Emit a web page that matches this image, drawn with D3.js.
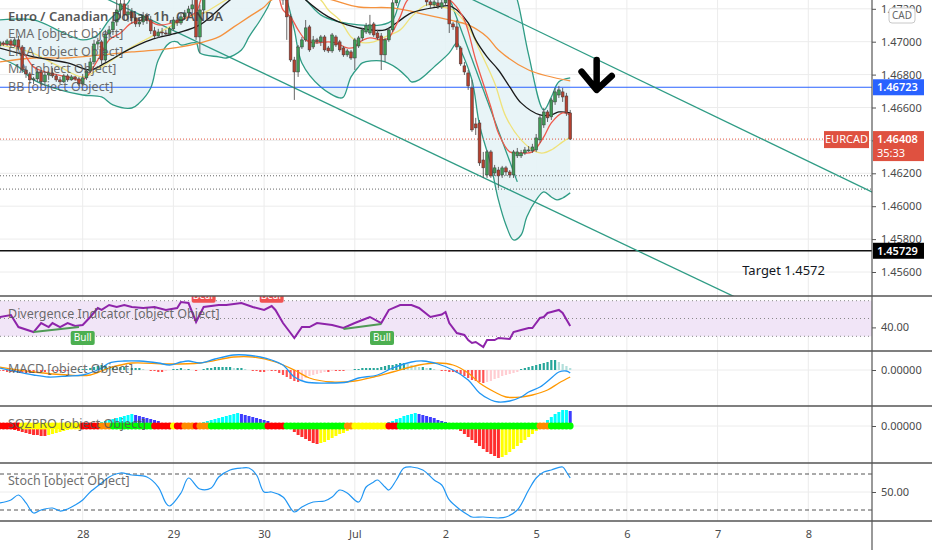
<!DOCTYPE html>
<html>
<head>
<meta charset="utf-8">
<script src="https://cdn.jsdelivr.net/npm/d3@7"></script>
<style>
  html, body { margin: 0; padding: 0; background: #fff; overflow: hidden; }
  svg { display: block; font-family: "Noto Sans", "DejaVu Sans", sans-serif; }
</style>
</head>
<body>
<svg></svg>
<script>
// EURCAD 1h. hour index: 24 = 28 Jun 00:00
const dayTicks = [24, 48, 72, 96, 120, 144, 168, 192, 216];
const dayLabels = ["28", "29", "30", "Jul", "2", "5", "6", "7", "8"];
const priceTicks = [1.472, 1.470, 1.468, 1.466, 1.464, 1.462, 1.460, 1.458, 1.456];
const hiddenTicks = [1.464]; // covered by the last-price tag

const firstHour = 2;
// [open, high, low, close]
const candles = [
  [1.46974,1.47011,1.46962,1.46999],[1.46993,1.47005,1.46974,1.46986],[1.46986,1.47017,1.46974,1.47005],
  [1.47005,1.47017,1.46968,1.46980],[1.46980,1.47029,1.46968,1.47011],[1.47011,1.47035,1.46950,1.46968],
  [1.46968,1.46980,1.46810,1.46828],[1.46828,1.46853,1.46780,1.46804],[1.46804,1.46816,1.46743,1.46768],
  [1.46768,1.46786,1.46743,1.46774],[1.46774,1.46834,1.46756,1.46816],[1.46816,1.46828,1.46737,1.46756],
  [1.46756,1.46816,1.46743,1.46798],[1.46798,1.46822,1.46768,1.46810],[1.46810,1.46841,1.46780,1.46792],
  [1.46792,1.46804,1.46756,1.46768],[1.46768,1.46786,1.46743,1.46756],[1.46756,1.46804,1.46749,1.46792],
  [1.46792,1.46804,1.46756,1.46768],[1.46768,1.46798,1.46762,1.46786],[1.46786,1.46792,1.46762,1.46774],
  [1.46774,1.46786,1.46731,1.46743],[1.46743,1.46804,1.46737,1.46780],[1.46780,1.46834,1.46768,1.46822],
  [1.46822,1.46901,1.46810,1.46877],[1.46877,1.47011,1.46865,1.46986],[1.46986,1.47023,1.46950,1.46999],
  [1.46999,1.47011,1.46865,1.46889],[1.46889,1.47072,1.46877,1.47047],[1.47047,1.47096,1.47011,1.47072],
  [1.47072,1.47157,1.47041,1.47120],[1.47120,1.47254,1.47096,1.47193],[1.47193,1.47266,1.47145,1.47230],
  [1.47230,1.47254,1.47132,1.47163],[1.47163,1.47224,1.47120,1.47181],[1.47181,1.47205,1.47108,1.47145],
  [1.47145,1.47169,1.47090,1.47108],[1.47108,1.47145,1.47090,1.47120],[1.47120,1.47181,1.47102,1.47157],
  [1.47157,1.47175,1.47108,1.47132],[1.47132,1.47157,1.47047,1.47066],[1.47066,1.47090,1.47023,1.47035],
  [1.47035,1.47078,1.47023,1.47059],[1.47059,1.47084,1.47035,1.47053],[1.47053,1.47072,1.47035,1.47047],
  [1.47047,1.47090,1.47035,1.47078],[1.47078,1.47151,1.47066,1.47132],[1.47132,1.47151,1.47096,1.47114],
  [1.47114,1.47169,1.47102,1.47151],[1.47151,1.47193,1.47132,1.47175],[1.47175,1.47218,1.47157,1.47199],
  [1.47199,1.47254,1.47169,1.47224],[1.47290,1.47315,1.47011,1.47029],[1.47029,1.47224,1.46932,1.47193],
  [1.47193,1.47315,1.47169,1.47284],[1.47284,1.47330,1.47270,1.47310],[1.47310,1.47350,1.47295,1.47340],
  [1.47340,1.47380,1.47320,1.47360],[1.47360,1.47400,1.47340,1.47385],[1.47385,1.47420,1.47360,1.47370],
  [1.47370,1.47410,1.47350,1.47395],[1.47395,1.47440,1.47380,1.47420],[1.47420,1.47450,1.47390,1.47400],
  [1.47400,1.47430,1.47370,1.47380],[1.47380,1.47420,1.47360,1.47405],[1.47405,1.47440,1.47390,1.47430],
  [1.47430,1.47460,1.47400,1.47415],[1.47415,1.47445,1.47385,1.47395],[1.47395,1.47430,1.47375,1.47420],
  [1.47420,1.47455,1.47400,1.47440],[1.47440,1.47470,1.47410,1.47425],[1.47425,1.47450,1.47390,1.47400],
  [1.47400,1.47430,1.47370,1.47385],[1.47385,1.47410,1.47350,1.47370],[1.47370,1.47395,1.47340,1.47376],
  [1.47376,1.47406,1.47224,1.47254],[1.47254,1.47272,1.47011,1.47151],[1.47151,1.47169,1.46877,1.46889],
  [1.46889,1.46908,1.46646,1.46816],[1.46816,1.46980,1.46786,1.46968],[1.46968,1.47029,1.46956,1.47011],
  [1.47011,1.47132,1.46999,1.47084],[1.47090,1.47102,1.46938,1.46950],[1.46968,1.47035,1.46956,1.47011],
  [1.47011,1.47023,1.46986,1.46999],[1.46999,1.47041,1.46974,1.47029],[1.47029,1.47041,1.46938,1.46950],
  [1.46962,1.46974,1.46932,1.46944],[1.46944,1.47053,1.46932,1.47041],[1.47029,1.47041,1.46968,1.46980],
  [1.46999,1.47011,1.46938,1.46950],[1.46962,1.46974,1.46908,1.46920],[1.46920,1.46956,1.46908,1.46944],
  [1.46938,1.46950,1.46889,1.46901],[1.46901,1.47023,1.46828,1.47011],[1.46974,1.47035,1.46962,1.47023],
  [1.47023,1.47084,1.47005,1.47072],[1.47059,1.47114,1.47047,1.47096],[1.47053,1.47163,1.47041,1.47102],
  [1.47108,1.47120,1.47029,1.47041],[1.47053,1.47072,1.47011,1.47023],[1.47035,1.47053,1.46828,1.46920],
  [1.46920,1.47023,1.46877,1.47011],[1.47011,1.47084,1.46999,1.47072],[1.47072,1.47254,1.47059,1.47236],
  [1.47236,1.47315,1.47218,1.47284],[1.47284,1.47376,1.47272,1.47345],[1.47345,1.47400,1.47330,1.47380],
  [1.47380,1.47420,1.47350,1.47365],[1.47365,1.47400,1.47330,1.47390],[1.47390,1.47410,1.47340,1.47350],
  [1.47350,1.47370,1.47300,1.47315],[1.47315,1.47345,1.47266,1.47284],[1.47284,1.47315,1.47218,1.47242],
  [1.47242,1.47266,1.47205,1.47224],[1.47224,1.47254,1.47211,1.47242],[1.47236,1.47260,1.47199,1.47218],
  [1.47211,1.47254,1.47199,1.47236],[1.47236,1.47303,1.47224,1.47254],[1.47254,1.47284,1.47053,1.47108],
  [1.47108,1.47120,1.47072,1.47090],[1.47090,1.47132,1.46950,1.46968],[1.46962,1.46974,1.46853,1.46865],
  [1.46853,1.46877,1.46798,1.46816],[1.46810,1.46828,1.46707,1.46731],[1.46719,1.46768,1.46452,1.46464],
  [1.46500,1.46537,1.46433,1.46476],[1.46506,1.46524,1.46245,1.46263],[1.46281,1.46330,1.46172,1.46233],
  [1.46190,1.46342,1.46172,1.46330],[1.46330,1.46342,1.46172,1.46184],[1.46202,1.46251,1.46184,1.46233],
  [1.46220,1.46239,1.46111,1.46184],[1.46190,1.46245,1.46172,1.46233],[1.46233,1.46245,1.46184,1.46208],
  [1.46208,1.46220,1.46172,1.46190],[1.46190,1.46342,1.46172,1.46330],[1.46306,1.46354,1.46293,1.46330],
  [1.46306,1.46342,1.46293,1.46324],[1.46324,1.46360,1.46312,1.46342],[1.46336,1.46366,1.46330,1.46342],
  [1.46336,1.46379,1.46324,1.46360],[1.46342,1.46439,1.46330,1.46415],[1.46403,1.46555,1.46385,1.46537],
  [1.46494,1.46597,1.46476,1.46573],[1.46573,1.46585,1.46512,1.46537],[1.46543,1.46658,1.46524,1.46646],
  [1.46634,1.46719,1.46616,1.46695],[1.46676,1.46731,1.46658,1.46707],[1.46695,1.46719,1.46634,1.46664],
  [1.46670,1.46689,1.46549,1.46567],[1.46567,1.46585,1.46403,1.46408]
];

// overlays [hour, price]
const emaRed = [[2,1.46986],[7,1.46968],[11,1.46847],[15,1.46810],[20,1.46786],[24,1.46768],[28,1.46889],[31,1.47011],
  [34,1.47053],[37,1.47114],[41,1.47132],[44,1.47102],[50,1.47132],[54,1.47181],[56,1.47284],[66,1.47406],[74,1.47388],
  [77,1.47193],[79,1.47151],[81,1.47072],[83,1.47011],[85,1.46993],[89,1.46999],[91,1.46993],[94,1.46962],[96,1.46968],
  [97,1.46993],[100,1.47023],[103,1.47011],[105,1.47023],[106,1.47059],[108,1.47151],[110,1.47254],[115,1.47327],
  [119,1.47284],[122,1.47236],[125,1.47132],[128,1.46889],[132,1.46603],[134,1.46445],[137,1.46330],[140,1.46324],
  [143,1.46330],[146,1.46421],[148,1.46506],[151,1.46567],[153,1.46555]];
const emaYellow = [[2,1.46980],[10,1.46938],[18,1.46847],[24,1.46786],[29,1.46847],[33,1.46908],[37,1.46968],[42,1.47029],
  [47,1.47090],[52,1.47151],[56,1.47175],[62,1.47254],[71,1.47345],[81,1.47345],[87,1.47254],[89,1.47193],[92,1.47132],
  [95,1.47029],[97,1.46999],[101,1.46999],[104,1.47029],[108,1.47072],[111,1.47151],[115,1.47224],[119,1.47211],
  [122,1.47193],[126,1.47090],[129,1.46950],[133,1.46749],[136,1.46543],[140,1.46403],[144,1.46330],[146,1.46324],
  [148,1.46342],[151,1.46391],[153,1.46421]];
const maBlack = [[2,1.46962],[11,1.46908],[20,1.46871],[26,1.46828],[30,1.46871],[36,1.46950],[42,1.47011],[49,1.47053],
  [55,1.47102],[63,1.47254],[71,1.47376],[79,1.47345],[83,1.47254],[89,1.47151],[94,1.47102],[100,1.47072],[104,1.47072],
  [107,1.47114],[111,1.47175],[118,1.47211],[121,1.47218],[123,1.47193],[126,1.47114],[128,1.47011],[131,1.46908],
  [134,1.46828],[137,1.46725],[140,1.46628],[145,1.46555],[148,1.46555],[150,1.46573],[153,1.46567]];
const emaOrange = [[2,1.46877],[11,1.46901],[20,1.46901],[29,1.46920],[37,1.46938],[44,1.46950],[50,1.46968],[55,1.46993],
  [60,1.47029],[64,1.47090],[68,1.47151],[72,1.47211],[74,1.47254],[81,1.47303],[90,1.47254],[97,1.47211],[106,1.47205],
  [115,1.47163],[121,1.47132],[126,1.47102],[131,1.47029],[134,1.46950],[142,1.46828],[153,1.46762]];
const bbUpper = [[2,1.47132],[11,1.47132],[19,1.47053],[24,1.47011],[28,1.47041],[31,1.47132],[34,1.47193],[36,1.47236],
  [39,1.47376],[55,1.47528],[74,1.47528],[81,1.47315],[87,1.47163],[92,1.47120],[97,1.47102],[103,1.47102],[106,1.47132],
  [108,1.47254],[113,1.47497],[129,1.47619],[137,1.47376],[139,1.47254],[142,1.46920],[146,1.46585],[148,1.46664],
  [150,1.46756],[153,1.46780]];
const bbLower = [[2,1.46901],[7,1.46847],[11,1.46768],[18,1.46707],[24,1.46676],[29,1.46664],[32,1.46616],[37,1.46597],
  [39,1.46628],[42,1.46719],[44,1.46889],[47,1.46993],[49,1.46999],[50,1.46980],[54,1.46993],[55,1.46932],[60,1.46908],
  [62,1.46901],[66,1.46950],[68,1.47029],[71,1.47132],[73,1.47211],[75,1.47303],[77,1.47303],[78,1.47254],[80,1.47072],
  [82,1.46871],[87,1.46725],[92,1.46658],[93,1.46664],[95,1.46786],[97,1.46847],[98,1.46871],[103,1.46883],[107,1.46841],
  [110,1.46780],[111,1.46756],[113,1.46768],[117,1.46847],[121,1.46932],[123,1.46993],[124,1.46950],[127,1.46768],
  [129,1.46494],[132,1.46251],[134,1.46038],[136,1.45886],[138,1.45795],[140,1.45825],[141.5,1.45935],[144,1.46038],
  [146,1.46087],[148,1.46056],[149.5,1.46038],[151,1.46050],[153,1.46081]];

// hand-drawn lines [hour, price]
const upperChannel = [[110, 1.47446], [236, 1.46052]];
const lowerChannel = [[30, 1.47264], [200, 1.45411]];
const dropLine = [[120, 1.47330], [139, 1.46148]];
const arrowShaft = [[160, 1.46889], [160, 1.46712]];
const arrowHead = [[156, 1.46818], [160, 1.46707], [164, 1.46792]];
const targetNote = { hour: 198.5, price: 1.45612, text: "Target 1.4572" };

const blueLevel = 1.46723;
const blackLevel = 1.45729;
const lastPrice = 1.46408;
const dottedLevels = [1.46185, 1.46104];

// Divergence indicator (RSI)
const rsiLine = [[2,51.7],[5,53.9],[7,40.4],[11,34.8],[13,44.9],[15,40.4],[16,44.9],[18,40.4],[20,44.9],[22,41.6],[24,42.7],
  [26,51.7],[28,61.8],[29,59.6],[31,65.2],[33,62.9],[35,65.2],[37,62.9],[40,61.8],[43,62.9],[46,59.6],[49,61.8],[50,68.5],
  [52,67.4],[54,46.1],[56,62.9],[60,65.2],[62,65.2],[66,67.4],[69,62.9],[72,59.6],[74,64],[75,59.6],[77,44.9],[79,33.7],
  [80,28.1],[82,40.4],[84,40.4],[86,44.9],[90,42.7],[93,39.3],[96,44.9],[98,48.3],[100,51.7],[103,44.9],[105,59.6],
  [108,65.2],[111,65.2],[113,61.8],[116,51.7],[119,54.5],[120,57.3],[121,44.9],[123,33.7],[125,31.5],[126,25.8],[127,22.5],
  [128,23.6],[130,18],[131,25.8],[133,25.8],[134,28.1],[137,27],[138,34.8],[140,37.1],[142,39.3],[143,39.3],[145,50.6],
  [146,51.7],[147,56.2],[148,57.3],[150,59.6],[151,56.2],[153,41.6]];
const bullLines = [[[11, 34.8], [23, 40.4]], [[93, 38.2], [103, 43.8]]];
const bullTags = [[24, 28.1], [103.2, 28.1]];
const bearTags = [[56, 75.5], [74, 75.5]];

// MACD
const macdLine = [[2,0.00002],[7,-0.00002],[11,-0.00005],[15,-0.00007],[20,-0.00006],[24,-0.00005],[29,0.00002],[31,0.00007],
  [35,0.00009],[39,0.00009],[44,0.00007],[47,0.00005],[50,0.00008],[52,0.00009],[55,0.00007],[59,0.00011],[64,0.00015],
  [67,0.00015],[71,0.00013],[74,0.00010],[77,0.00005],[80,-0.00007],[83,-0.00012],[89,-0.00013],[94,-0.00012],
  [97,-0.00008],[102,-0.00005],[106,0.00002],[111,0.00008],[114,0.00009],[118,0.00006],[122,0.00000],[126,-0.00010],
  [129,-0.00023],[132,-0.00030],[134,-0.00032],[137,-0.00031],[140,-0.00027],[142,-0.00022],[145,-0.00017],
  [148,-0.00008],[150,-0.00002],[152,-0.00001],[153,-0.00003]];
const signalLine = [[2,0.00003],[11,-0.00002],[20,-0.00005],[26,-0.00005],[31,0.00002],[37,0.00007],[46,0.00006],[55,0.00007],
  [64,0.00013],[69,0.00013],[75,0.00008],[80,0.00000],[84,-0.00008],[90,-0.00012],[96,-0.00011],[101,-0.00007],
  [106,-0.00002],[113,0.00005],[118,0.00007],[122,0.00005],[126,-0.00003],[129,-0.00013],[133,-0.00022],[136,-0.00027],
  [140,-0.00027],[143,-0.00025],[147,-0.00020],[150,-0.00013],[153,-0.00007]];
const macdHist = [
  -0.00001,-0.00001,-0.00002,-0.00002,-0.00002,-0.00003,-0.00003,-0.00003,-0.00003,
  -0.00003,-0.00002,-0.00002,-0.00002,-0.00001,-0.00001,-0.00001,-0.00001,
  -0.00001,-0.00001,0,0,0.00001,0.00001,
  0.00001,0.00002,0.00003,0.00004,
  0.00005,0.00005,0.00004,0.00004,0.00003,0.00003,
  0.00003,0.00002,0.00002,0.00002,0.00002,0.00001,
  0,-0.00001,-0.00001,-0.00002,-0.00002,-0.00001,
  0,0.00001,0.00001,0.00002,0.00001,0.00001,0,
  -0.00001,
  0,0.00001,0.00002,0.00002,0.00003,0.00003,0.00003,0.00003,
  0.00003,0.00002,0.00002,0.00002,0.00001,
  0,-0.00001,-0.00001,-0.00002,-0.00002,-0.00001,-0.00001,-0.00001,
  -0.00003,-0.00005,-0.00007,-0.00009,-0.00011,-0.00012,
  -0.00010,-0.00008,-0.00006,-0.00005,-0.00004,-0.00003,-0.00002,-0.00002,-0.00001,
  -0.00001,-0.00001,-0.00001,0,0,
  0.00001,0.00001,0.00002,0.00002,0.00002,0.00002,0.00002,
  0.00003,0.00004,0.00005,0.00005,0.00006,0.00007,0.00007,
  0.00006,0.00005,0.00004,0.00003,0.00003,0.00002,0.00002,0.00001,
  0,-0.00001,-0.00001,-0.00002,-0.00002,-0.00003,
  -0.00004,-0.00006,-0.00008,-0.00010,-0.00011,-0.00012,-0.00013,
  -0.00012,-0.00011,-0.00009,-0.00008,-0.00006,-0.00005,-0.00004,-0.00003,-0.00002,
  0.00001,0.00002,0.00003,0.00004,0.00005,0.00006,0.00007,0.00008,0.00010,0.00010,
  0.00008,0.00006,0.00004,0.00002
];

// SQZPRO momentum and squeeze dots
const sqzHist = [
  -0.00002,-0.00002,-0.00003,-0.00003,-0.00004,
  -0.00005,-0.00006,-0.00007,-0.00008,-0.00009,-0.00009,-0.00010,-0.00010,
  -0.00009,-0.00008,-0.00007,-0.00006,-0.00005,-0.00004,-0.00003,-0.00002,-0.00001,
  0,0.00001,0.00001,0.00002,0.00003,0.00004,0.00005,
  0.00006,0.00007,0.00008,0.00009,0.00010,0.00011,0.00012,
  0.00011,0.00010,0.00009,0.00008,0.00007,0.00006,0.00005,0.00003,0.00002,
  0.00001,0,0,0,0,0.00001,
  0.00002,0.00002,0.00003,0.00004,0.00005,0.00006,0.00007,0.00008,0.00009,0.00010,0.00011,0.00012,0.00013,
  0.00012,0.00011,0.00010,0.00009,0.00008,0.00007,0.00006,0.00005,0.00003,0.00002,
  0,0,-0.00001,
  -0.00003,-0.00006,-0.00009,-0.00011,-0.00013,-0.00015,-0.00017,-0.00018,
  -0.00017,-0.00016,-0.00014,-0.00012,-0.00010,-0.00008,-0.00007,-0.00005,-0.00003,-0.00002,
  -0.00001,0,0,0.00001,0.00001,0.00001,0.00002,0.00003,
  0.00004,0.00005,0.00007,0.00008,0.00010,0.00011,0.00012,0.00013,
  0.00012,0.00011,0.00010,0.00009,0.00008,0.00006,0.00005,0.00004,
  0.00003,0.00001,
  -0.00002,-0.00005,-0.00008,-0.00011,-0.00014,-0.00017,-0.00020,-0.00023,-0.00026,-0.00028,-0.00030,-0.00032,
  -0.00031,-0.00029,-0.00026,-0.00023,-0.00020,-0.00017,-0.00014,-0.00011,-0.00008,-0.00005,
  0.00001,0.00003,0.00006,0.00009,0.00012,0.00014,0.00016,0.00016,0.00015
];
// [from hour, to hour, squeeze state]
const sqzDots = [[2,7,"red"],[8,23,"yellow"],[24,28,"red"],[29,31,"orange"],[32,42,"green"],[43,47,"red"],[48,48,"yellow"],
  [49,50,"red"],[51,53,"orange"],[54,54,"red"],[55,57,"orange"],[58,72,"green"],[73,77,"red"],[78,93,"green"],
  [94,95,"orange"],[96,104,"yellow"],[105,107,"red"],[108,144,"green"],[145,147,"orange"],[148,153,"green"]];

// Stochastic
const stochLine = [[2,31.7],[5,36.7],[7,45],[9,31.7],[11,15],[13,20],[16,23.3],[18,18.3],[20,21.7],[22,28.3],[24,36.7],
  [26,50],[29,65],[31,75],[34,81.7],[37,78.3],[41,75],[44,58.3],[46,31.7],[47,26.7],[50,48.3],[52,73.3],[55,55],[58,56.7],
  [60,75],[63,86.7],[66,90],[68,90],[70,78.3],[72,50],[74,50],[77,41.7],[80,16.7],[82,25],[85,33.3],[88,35],[90,41.7],
  [92,53.3],[94,48.3],[97,33.3],[99,58.3],[101,66.7],[102,70],[104,58.3],[105,53.3],[107,70],[109,90],[111,91.7],
  [114,86.7],[117,70],[119,61.7],[121,36.7],[124,20],[126,11.7],[127,8.3],[130,8.3],[134,6.7],[136,8.3],[139,20],
  [142,53.3],[144,73.3],[146,83.3],[148,86.7],[151,91.7],[152,83.3],[153,73.3]];

// ---- layout ----
const width = 932, height = 550, axisX = 872;
const panes = { main: [0, 296], rsi: [296, 351], macd: [351, 406], sqz: [406, 463], stoch: [463, 521] };
const textColor = "#4a4a4a";

const svg = d3.select("svg").attr("width", width).attr("height", height);

const x = d3.scaleLinear().domain([24, 216]).range([82.7, 808.3]);
const yP = d3.scaleLinear().domain([1.456, 1.470]).range([272, 41.7]);
const yR = d3.scaleLinear().domain([30, 70]).range([336.3, 300.7]);
const yM = d3.scaleLinear().domain([0, 0.0001]).range([370, 360]);
const yS = d3.scaleLinear().domain([0, 0.0001]).range([426, 416]);
const yK = d3.scaleLinear().domain([20, 80]).range([510, 474]);

const defs = svg.append("defs");
Object.entries(panes).forEach(([name, [top, bottom]]) => {
    defs.append("clipPath").attr("id", "clip-" + name)
        .append("rect").attr("x", 0).attr("y", top).attr("width", axisX).attr("height", bottom - top);
});
const pane = name => svg.append("g").attr("clip-path", `url(#clip-${name})`);

// grid
const grid = svg.append("g");
grid.selectAll(".vgrid").data(dayTicks).enter().append("line")
    .attr("x1", d => x(d)).attr("x2", d => x(d)).attr("y1", 0).attr("y2", panes.stoch[1])
    .attr("stroke", "#ececec");
grid.selectAll(".hgrid").data(priceTicks).enter().append("line")
    .attr("x1", 0).attr("x2", axisX).attr("y1", d => yP(d)).attr("y2", d => yP(d))
    .attr("stroke", "#ececec");
[yR(40), yM(0), yS(0), yK(50)].forEach(yy => {
    grid.append("line").attr("x1", 0).attr("x2", axisX).attr("y1", yy).attr("y2", yy).attr("stroke", "#ececec");
});

// ---- main pane ----
const gMain = pane("main");
const pLine = d3.line().x(d => x(d[0])).y(d => yP(d[1])).curve(d3.curveCatmullRom.alpha(0.5));
const straight = d3.line().x(d => x(d[0])).y(d => yP(d[1]));

gMain.append("path")
    .attr("d", pLine(bbUpper) + "L" + pLine(bbLower.slice().reverse()).slice(1) + "Z")
    .attr("fill", "#e6f3f6").attr("opacity", 0.9);
[bbUpper, bbLower].forEach(band => {
    gMain.append("path").attr("d", pLine(band)).attr("fill", "none")
        .attr("stroke", "#2f9c85").attr("stroke-width", 1.3);
});

// horizontal levels
gMain.append("line").attr("x1", 0).attr("x2", axisX).attr("y1", yP(blueLevel)).attr("y2", yP(blueLevel))
    .attr("stroke", "#2962ff").attr("stroke-width", 1.2);
gMain.append("line").attr("x1", 0).attr("x2", axisX).attr("y1", yP(blackLevel)).attr("y2", yP(blackLevel))
    .attr("stroke", "#111").attr("stroke-width", 1.5);
gMain.selectAll(".dotted").data(dottedLevels).enter().append("line")
    .attr("x1", 0).attr("x2", axisX).attr("y1", d => yP(d)).attr("y2", d => yP(d))
    .attr("stroke", "#666").attr("stroke-dasharray", "1,2");
gMain.append("line").attr("x1", 0).attr("x2", 824).attr("y1", yP(lastPrice)).attr("y2", yP(lastPrice))
    .attr("stroke", "#e0533f").attr("stroke-dasharray", "1,2");

// trend / channel lines
[upperChannel, lowerChannel, dropLine].forEach(l => {
    gMain.append("path").attr("d", straight(l)).attr("fill", "none")
        .attr("stroke", "#2f9c85").attr("stroke-width", 1.3);
});

// moving averages
const maStyles = [[emaOrange, "#f5923e"], [emaYellow, "#efe27a"], [maBlack, "#1a1a1a"], [emaRed, "#ef5a4c"]];
maStyles.forEach(([data, color]) => {
    gMain.append("path").attr("d", pLine(data)).attr("fill", "none")
        .attr("stroke", color).attr("stroke-width", 1.3);
});

// candles
const bars = candles.map((c, i) => ({ t: firstHour + i, o: c[0], h: c[1], l: c[2], c: c[3] }));
gMain.selectAll(".wick").data(bars).enter().append("line")
    .attr("x1", d => x(d.t)).attr("x2", d => x(d.t))
    .attr("y1", d => yP(d.h)).attr("y2", d => yP(d.l))
    .attr("stroke", "#555").attr("stroke-width", 0.9);
gMain.selectAll(".body").data(bars).enter().append("rect")
    .attr("x", d => x(d.t) - 1.4).attr("width", 2.8)
    .attr("y", d => yP(Math.max(d.o, d.c)))
    .attr("height", d => Math.max(1, Math.abs(yP(d.o) - yP(d.c))))
    .attr("fill", d => d.c >= d.o ? "#3e9a55" : "#b5402f")
    .attr("stroke", "#3a3a3a").attr("stroke-width", 0.5);

// down arrow and target note
gMain.append("path").attr("d", straight(arrowShaft) + straight(arrowHead))
    .attr("fill", "none").attr("stroke", "#000").attr("stroke-width", 6.5)
    .attr("stroke-linecap", "round").attr("stroke-linejoin", "round");
gMain.append("text").attr("x", x(targetNote.hour)).attr("y", yP(targetNote.price))
    .attr("dy", "0.35em").style("font-size", "13px").style("fill", "#131722").text(targetNote.text);

// ---- divergence (RSI) pane ----
const gRsi = pane("rsi");
gRsi.append("rect").attr("x", 0).attr("width", axisX).attr("y", yR(70)).attr("height", yR(30) - yR(70))
    .attr("fill", "#f1e5f7");
gRsi.selectAll(".band").data([70, 50, 30]).enter().append("line")
    .attr("x1", 0).attr("x2", axisX).attr("y1", d => yR(d)).attr("y2", d => yR(d))
    .attr("stroke", "#888").attr("stroke-dasharray", "1,3");
const rLine = d3.line().x(d => x(d[0])).y(d => yR(d[1]));
gRsi.append("path").attr("d", rLine(rsiLine)).attr("fill", "none")
    .attr("stroke", "#8e24aa").attr("stroke-width", 2);
bullLines.forEach(l => {
    gRsi.append("path").attr("d", rLine(l)).attr("stroke", "#4f9a55").attr("stroke-width", 2);
});
const tag = (g, list, color, label) => {
    list.forEach(([t, v]) => {
        g.append("rect").attr("x", x(t) - 12).attr("y", yR(v) - 7).attr("width", 24).attr("height", 14)
            .attr("rx", 2).attr("fill", color);
        g.append("text").attr("x", x(t)).attr("y", yR(v)).attr("dy", "0.35em")
            .style("text-anchor", "middle").style("font-size", "10px").style("fill", "#fff").text(label);
    });
};
tag(gRsi, bullTags, "#4caf50", "Bull");
tag(gRsi, bearTags, "#f05252", "Bear");

// ---- MACD pane ----
const gMacd = pane("macd");
gMacd.selectAll(".mh").data(macdHist).enter().append("rect")
    .attr("x", (d, i) => x(firstHour + i) - 1.1).attr("width", 2.2)
    .attr("y", d => Math.min(yM(0), yM(d))).attr("height", d => Math.abs(yM(d) - yM(0)))
    .attr("fill", (d, i) => {
        const prev = i > 0 ? macdHist[i - 1] : d;
        return d >= 0 ? (d >= prev ? "#26a69a" : "#b2dfdb") : (d <= prev ? "#ff5252" : "#ffcdd2");
    });
const mLine = d3.line().x(d => x(d[0])).y(d => yM(d[1])).curve(d3.curveCatmullRom.alpha(0.5));
gMacd.append("path").attr("d", mLine(signalLine)).attr("fill", "none").attr("stroke", "#ff9800").attr("stroke-width", 1.3);
gMacd.append("path").attr("d", mLine(macdLine)).attr("fill", "none").attr("stroke", "#2196f3").attr("stroke-width", 1.3);

// ---- SQZPRO pane ----
const gSqz = pane("sqz");
gSqz.selectAll(".sh").data(sqzHist).enter().append("rect")
    .attr("x", (d, i) => x(firstHour + i) - 1.5).attr("width", 3)
    .attr("y", d => Math.min(yS(0), yS(d))).attr("height", d => Math.abs(yS(d) - yS(0)))
    .attr("fill", (d, i) => {
        const prev = i > 0 ? sqzHist[i - 1] : d;
        return d >= 0 ? (d >= prev ? "#00ffff" : "#3d3dff") : (d <= prev ? "#ff2e2e" : "#ffff00");
    });
const dotColors = { red: "#ff0000", yellow: "#ffff00", orange: "#ff8c00", green: "#00ff00" };
const dotHours = sqzDots.flatMap(([a, b, s]) => d3.range(a, b + 1).map(t => ({ t, s })));
gSqz.selectAll(".dot").data(dotHours).enter().append("circle")
    .attr("cx", d => x(d.t)).attr("cy", yS(0)).attr("r", 3.4)
    .attr("fill", d => dotColors[d.s]);

// ---- Stoch pane ----
const gSto = pane("stoch");
gSto.selectAll(".sb").data([80, 20]).enter().append("line")
    .attr("x1", 0).attr("x2", axisX).attr("y1", d => yK(d)).attr("y2", d => yK(d))
    .attr("stroke", "#555").attr("stroke-dasharray", "4,3");
gSto.append("path")
    .attr("d", d3.line().x(d => x(d[0])).y(d => yK(d[1])).curve(d3.curveCatmullRom.alpha(0.5))(stochLine))
    .attr("fill", "none").attr("stroke", "#2196f3").attr("stroke-width", 1.2);

// ---- legends ----
const legends = [
    ["Euro / Canadian Dollar 1h, OANDA", 16, true],
    ["EMA [object Object]", 34], ["EMA [object Object]", 52], ["MA [object Object]", 69], ["BB [object Object]", 87],
    ["Divergence Indicator [object Object]", 314], ["MACD [object Object]", 369],
    ["SQZPRO [object Object]", 424], ["Stoch [object Object]", 481]
];
svg.selectAll(".legend").data(legends).enter().append("text")
    .attr("x", 8).attr("y", d => d[1]).attr("dy", "0.35em")
    .style("font-size", d => d[2] ? "13px" : "12.5px")
    .style("font-weight", d => d[2] ? 600 : 400)
    .style("fill", d => d[2] ? "#3a3a3a" : "#555").style("opacity", 0.85)
    .text(d => d[0]);

// ---- axes ----
const styleAxis = g => {
    g.select(".domain").remove();
    g.selectAll("line").attr("stroke", "#555");
    g.selectAll("text").style("font-size", "11px").style("fill", textColor).style("font-family", "Noto Sans");
};
svg.append("g").attr("transform", `translate(${axisX},0)`)
    .call(d3.axisRight(yP).tickValues(priceTicks).tickSize(4).tickPadding(5)
        .tickFormat(d => hiddenTicks.includes(d) ? "" : d3.format(".5f")(d)))
    .call(styleAxis);
[[yR, [40], ".2f"], [yM, [0], ".5f"], [yS, [0], ".5f"], [yK, [50], ".2f"]].forEach(([sc, vals, f]) => {
    svg.append("g").attr("transform", `translate(${axisX},0)`)
        .call(d3.axisRight(sc).tickValues(vals).tickSize(4).tickPadding(5).tickFormat(d3.format(f)))
        .call(styleAxis);
});
svg.append("g").attr("transform", `translate(0,${panes.stoch[1]})`)
    .call(d3.axisBottom(x).tickValues(dayTicks).tickSize(0).tickPadding(9).tickFormat((d, i) => dayLabels[i]))
    .call(styleAxis);

// pane separators and price scale border
svg.selectAll(".sep").data([296, 351, 406, 463, 521]).enter().append("line")
    .attr("x1", 0).attr("x2", width).attr("y1", d => d).attr("y2", d => d)
    .attr("stroke", "#555").attr("stroke-width", 1.3);
svg.append("line").attr("x1", axisX).attr("x2", axisX).attr("y1", 0).attr("y2", height)
    .attr("stroke", "#555").attr("stroke-width", 1.2);

// ---- price tags ----
const priceTag = (price, fill, lines) => {
    const yy = yP(price);
    const h = lines.length > 1 ? 30 : 16;
    svg.append("rect").attr("x", axisX + 1).attr("y", yy - 8).attr("width", 51).attr("height", h).attr("fill", fill);
    lines.forEach((s, i) => {
        svg.append("text").attr("x", axisX + 5).attr("y", yy + i * 14).attr("dy", "0.35em")
            .style("font-size", "11px").style("font-weight", i ? 400 : 600).style("fill", "#fff").text(s);
    });
};
priceTag(blueLevel, "#2962ff", [d3.format(".5f")(blueLevel)]);
priceTag(lastPrice, "#df5140", [d3.format(".5f")(lastPrice), "35:33"]);
priceTag(blackLevel, "#000", [d3.format(".5f")(blackLevel)]);

svg.append("rect").attr("x", 824).attr("y", yP(lastPrice) - 8).attr("width", 45).attr("height", 17).attr("fill", "#df5140");
svg.append("text").attr("x", 846.5).attr("y", yP(lastPrice) + 0.5).attr("dy", "0.35em")
    .style("text-anchor", "middle").style("font-size", "11px").style("fill", "#fff").text("EURCAD");

svg.append("rect").attr("x", 889).attr("y", 8).attr("width", 26).attr("height", 15).attr("rx", 3)
    .attr("fill", "#fff").attr("stroke", "#c8c8c8");
svg.append("text").attr("x", 902).attr("y", 15.5).attr("dy", "0.35em")
    .style("text-anchor", "middle").style("font-size", "10px").style("fill", "#666").text("CAD");
</script>
</body>
</html>
